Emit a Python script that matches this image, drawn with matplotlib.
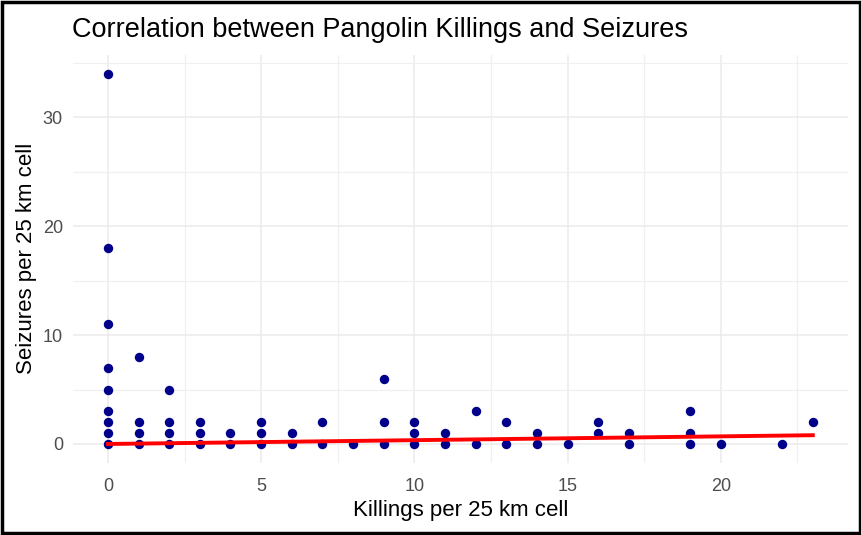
import numpy as np
import matplotlib
matplotlib.use("Agg")
import matplotlib.pyplot as plt
from matplotlib.ticker import MultipleLocator

# Datos
killings = [0, 0, 0, 0, 0, 0, 0, 0, 0,
            1, 1, 1, 1,
            2, 2, 2, 2,
            3, 3, 3,
            4, 4,
            5, 5, 5,
            6, 6,
            7, 7,
            8,
            9, 9, 9,
            10, 10, 10,
            11, 11,
            12, 12,
            13, 13,
            14, 14,
            15,
            16, 16,
            17, 17,
            19, 19, 19,
            20,
            22,
            23]
seizures = [0, 1, 2, 3, 5, 7, 11, 18, 34,
            0, 1, 2, 8,
            0, 1, 2, 5,
            0, 1, 2,
            0, 1,
            0, 1, 2,
            0, 1,
            0, 2,
            0,
            0, 2, 6,
            0, 1, 2,
            0, 1,
            0, 3,
            0, 2,
            0, 1,
            0,
            1, 2,
            0, 1,
            0, 1, 3,
            0,
            0,
            2]

# Recta de tendencia
intercepto = 0.0
pendiente = 0.035

plt.rcParams['font.family'] = ['Liberation Sans', 'DejaVu Sans']

fig = plt.figure(figsize=(8.62, 5.35), dpi=100)
ax = fig.add_axes([0.0843, 0.1355, 0.8995, 0.7617])

x_fit = np.array([min(killings), max(killings)])
y_fit = intercepto + pendiente * x_fit

ax.scatter(killings, seizures, s=46, color="#00008B", zorder=3, linewidths=0)
ax.plot(x_fit, y_fit, color="#FF0000", lw=2.8, zorder=4)

ax.set_xlim(-1.15, 24.15)
ax.set_ylim(-1.7, 35.7)
ax.xaxis.set_major_locator(MultipleLocator(5))
ax.xaxis.set_minor_locator(MultipleLocator(2.5))
ax.yaxis.set_major_locator(MultipleLocator(10))
ax.yaxis.set_minor_locator(MultipleLocator(5))

ax.grid(True, which="major", color="#EBEBEB", lw=1.1, zorder=0)
ax.grid(True, which="minor", color="#F0F0F0", lw=0.9, zorder=0)
for s in ax.spines.values():
    s.set_visible(False)
ax.tick_params(which="both", length=0, labelsize=13, labelcolor="#4D4D4D")
ax.tick_params(axis="x", pad=11)
ax.tick_params(axis="y", pad=7)

ax.set_xlabel("Killings per 25 km cell", fontsize=16, color="black", labelpad=4)
ax.set_ylabel("Seizures per 25 km cell", fontsize=16, color="black", labelpad=4)
fig.text(0.0835, 0.944, "Correlation between Pangolin Killings and Seizures",
         fontsize=19.5, ha="left", va="center")

# marco negro
fig.patches.append(plt.Rectangle((0.002, 0.003), 0.996, 0.994, transform=fig.transFigure,
                                 fill=False, edgecolor="black", lw=2.5))

fig.savefig("out.png", dpi=100)
